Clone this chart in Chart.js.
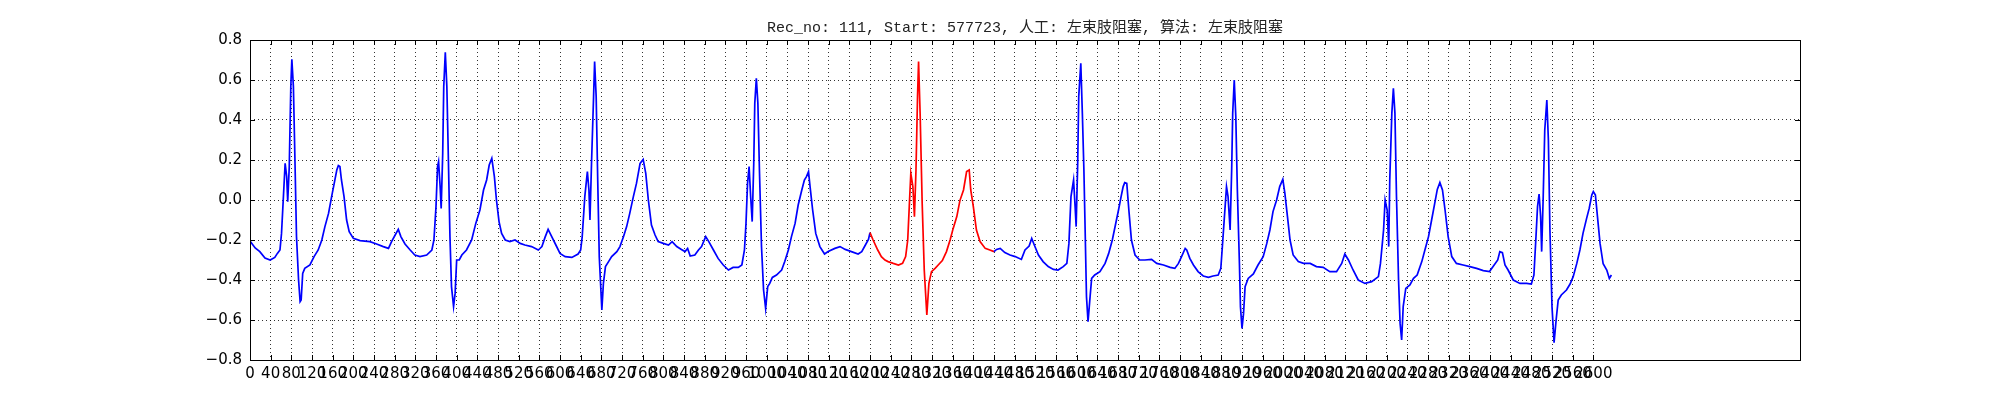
<!DOCTYPE html>
<html>
<head>
<meta charset="utf-8">
<script src="https://cdn.jsdelivr.net/npm/chart.js@4"></script>
<style>
    body { margin: 0; background: #fff; }
</style>
</head>
<body>
<canvas id="ecgChart" width="2000" height="400"></canvas>
<script>
// sample index / amplitude
const sampleIdx = [
    0, 10, 19, 29, 39, 48, 53, 58, 61, 65, 68, 71, 73, 76, 79, 81, 84, 87, 90, 94, 97, 99,
    102, 106, 116, 124, 132, 139, 145, 152, 158, 163, 168, 171, 174, 177, 182, 187, 192, 200,
    213, 232, 245, 258, 268, 274, 281, 287, 292, 300, 310, 319, 329, 342, 352, 356, 360, 363,
    365, 368, 370, 373, 375, 378, 381, 384, 387, 390, 394, 397, 400, 405, 410, 419, 429, 437,
    445, 452, 458, 463, 468, 473, 477, 482, 487, 494, 503, 513, 523, 532, 545, 558, 565, 571,
    577, 584, 592, 600, 610, 623, 635, 640, 643, 648, 653, 656, 658, 661, 665, 667, 670, 673,
    676, 681, 684, 688, 694, 700, 710, 716, 723, 729, 735, 742, 748, 755, 761, 766, 771, 777,
    784, 790, 800, 810, 817, 826, 835, 842, 847, 852, 861, 868, 874, 882, 888, 897, 906, 916,
    926, 935, 945, 952, 957, 960, 963, 966, 969, 972, 975, 977, 980, 983, 986, 990, 994, 998,
    1002, 1006, 1011, 1019, 1029, 1035, 1042, 1048, 1055, 1061, 1068, 1073, 1077, 1081, 1084,
    1089, 1095, 1103, 1112, 1119, 1132, 1142, 1152, 1164, 1177, 1184, 1190, 1197, 1200, 1206,
    1215, 1222, 1229, 1235, 1245, 1255, 1263, 1269, 1273, 1276, 1279, 1283, 1286, 1289, 1292,
    1294, 1297, 1301, 1305, 1310, 1314, 1319, 1326, 1332, 1340, 1348, 1355, 1361, 1368, 1374,
    1381, 1387, 1392, 1395, 1400, 1406, 1413, 1423, 1432, 1440, 1445, 1452, 1461, 1471, 1481,
    1493, 1500, 1508, 1513, 1518, 1526, 1535, 1545, 1555, 1564, 1574, 1581, 1585, 1589, 1594,
    1597, 1599, 1602, 1604, 1608, 1611, 1614, 1616, 1619, 1622, 1626, 1629, 1635, 1645, 1655,
    1662, 1669, 1675, 1681, 1686, 1690, 1693, 1697, 1701, 1706, 1713, 1722, 1732, 1745, 1755,
    1768, 1781, 1790, 1797, 1803, 1810, 1813, 1819, 1826, 1835, 1845, 1855, 1864, 1874, 1879,
    1882, 1886, 1890, 1893, 1897, 1900, 1902, 1905, 1908, 1911, 1915, 1917, 1920, 1923, 1926,
    1932, 1942, 1951, 1961, 1968, 1974, 1980, 1987, 1993, 1999, 2003, 2008, 2013, 2019, 2029,
    2039, 2052, 2064, 2077, 2090, 2103, 2113, 2119, 2126, 2135, 2145, 2158, 2171, 2184, 2188,
    2194, 2197, 2201, 2204, 2206, 2210, 2213, 2216, 2219, 2223, 2226, 2229, 2232, 2237, 2245,
    2252, 2259, 2268, 2274, 2281, 2287, 2293, 2298, 2303, 2308, 2313, 2319, 2326, 2335, 2348,
    2361, 2374, 2387, 2399, 2406, 2415, 2419, 2424, 2429, 2435, 2445, 2458, 2471, 2480, 2485,
    2489, 2492, 2495, 2498, 2500, 2503, 2506, 2510, 2513, 2516, 2520, 2524, 2528, 2532, 2538,
    2548, 2555, 2561, 2568, 2574, 2580, 2587, 2592, 2597, 2600, 2604, 2608, 2613, 2619, 2626,
    2631, 2635
];
const ecgValues = [
    -0.205, -0.24, -0.258, -0.29, -0.30, -0.287, -0.267, -0.25, -0.167, 0.033, 0.183, 0.117, -0.008, 0.167, 0.567, 0.703, 0.567, 0.2, -0.183, -0.4, -0.508, -0.5,
    -0.367, -0.342, -0.325, -0.283, -0.25, -0.2, -0.133, -0.067, 0.017, 0.083, 0.15, 0.172, 0.167, 0.1, 0.017, -0.1, -0.158, -0.192,
    -0.203, -0.208, -0.22, -0.233, -0.242, -0.208, -0.175, -0.147, -0.183, -0.22, -0.25, -0.275, -0.283, -0.275, -0.25, -0.2, -0.033, 0.167,
    0.192, 0.067, -0.042, 0.233, 0.567, 0.738, 0.567, 0.2, -0.183, -0.433, -0.533, -0.467, -0.3, -0.3, -0.275, -0.25, -0.2, -0.117,
    -0.05, 0.05, 0.1, 0.175, 0.208, 0.117, 0.0, -0.108, -0.167, -0.2, -0.208, -0.2, -0.217, -0.225, -0.233, -0.25, -0.233, -0.187,
    -0.147, -0.183, -0.225, -0.267, -0.283, -0.287, -0.27, -0.25, -0.183, 0.017, 0.142, 0.05, -0.1, 0.183, 0.517, 0.692, 0.517, 0.1,
    -0.283, -0.55, -0.417, -0.333, -0.308, -0.283, -0.258, -0.233, -0.183, -0.133, -0.067, 0.017, 0.083, 0.183, 0.203, 0.133, 0.0, -0.125,
    -0.175, -0.208, -0.217, -0.225, -0.208, -0.233, -0.247, -0.258, -0.242, -0.28, -0.275, -0.25, -0.233, -0.183, -0.208, -0.25, -0.292, -0.325,
    -0.35, -0.337, -0.337, -0.325, -0.25, -0.117, 0.083, 0.167, 0.017, -0.108, 0.183, 0.483, 0.608, 0.483, 0.15, -0.233, -0.45, -0.542,
    -0.433, -0.417, -0.387, -0.375, -0.35, -0.308, -0.25, -0.183, -0.117, -0.025, 0.05, 0.1, 0.117, 0.142, 0.067,
    -0.05, -0.167, -0.233, -0.27, -0.258, -0.242, -0.233, -0.247, -0.258, -0.27, -0.258, -0.23, -0.197, -0.163, -0.2,
    -0.25, -0.283, -0.3, -0.308, -0.317, -0.325, -0.317, -0.283, -0.2, -0.033, 0.133, 0.067, -0.083, 0.15, 0.517,
    0.692, 0.433, -0.017, -0.35, -0.575, -0.417, -0.358, -0.342, -0.325, -0.303, -0.258, -0.2, -0.142, -0.083, -0.003,
    0.05, 0.142, 0.15, 0.05, -0.033, -0.15, -0.208, -0.242, -0.25, -0.258, -0.247, -0.242, -0.263, -0.275, -0.283,
    -0.297, -0.25, -0.23, -0.192, -0.225, -0.275, -0.308, -0.333, -0.347, -0.35, -0.333, -0.317, -0.217, 0.017, 0.1,
    -0.033, -0.133, 0.183, 0.517, 0.683, 0.433, 0.15, -0.1, -0.483, -0.608, -0.483, -0.392, -0.375, -0.358, -0.317,
    -0.267, -0.2, -0.125, -0.05, 0.017, 0.067, 0.087, 0.083, -0.05, -0.2, -0.275, -0.3, -0.3, -0.297, -0.317,
    -0.325, -0.337, -0.342, -0.317, -0.283, -0.242, -0.25, -0.292, -0.325, -0.358, -0.38, -0.387, -0.38, -0.375, -0.342,
    -0.233, -0.083, 0.067, 0.017, -0.15, 0.15, 0.433, 0.6, 0.417, 0.05, -0.317, -0.533, -0.642, -0.567, -0.433,
    -0.392, -0.37, -0.325, -0.283, -0.217, -0.15, -0.058, 0.0, 0.067, 0.103, 0.033, -0.083, -0.2, -0.275, -0.308,
    -0.317, -0.317, -0.333, -0.337, -0.358, -0.358, -0.317, -0.27, -0.3, -0.35, -0.4, -0.417, -0.408, -0.383, -0.317,
    -0.15, 0.0, -0.05, -0.233, 0.1, 0.433, 0.558, 0.433, 0.017, -0.4, -0.617, -0.7, -0.533, -0.442, -0.425,
    -0.392, -0.375, -0.308, -0.25, -0.183, -0.1, -0.017, 0.053, 0.087, 0.05, -0.05, -0.183, -0.283, -0.317, -0.325,
    -0.333, -0.342, -0.353, -0.358, -0.333, -0.3, -0.258, -0.263, -0.325, -0.35, -0.4, -0.417, -0.417, -0.42, -0.375,
    -0.183, -0.033, 0.03, -0.083, -0.258, 0.017, 0.35, 0.5, 0.3, -0.15, -0.533, -0.713, -0.6, -0.5, -0.475,
    -0.45, -0.42, -0.383, -0.317, -0.25, -0.167, -0.092, -0.042, 0.025, 0.042, 0.025, -0.083, -0.217, -0.319, -0.35,
    -0.392, -0.375
];
// highlighted beat (drawn red)
const redStart = 1200;
const redEnd = 1440;

const titleText = 'Rec_no: 111, Start: 577723, 人工: 左束肢阻塞, 算法: 左束肢阻塞';
const xTickStep = 40;
const xTickLast = 2600;
const yTicks = [-0.8, -0.6, -0.4, -0.2, 0.0, 0.2, 0.4, 0.6, 0.8];

const xTicks = [];
for (let v = 0; v <= xTickLast; v += xTickStep) xTicks.push(v);

const points = sampleIdx.map((x, i) => ({ x: x, y: ecgValues[i] }));

// frame, inward tick marks, title
const framePlugin = {
    id: 'frame',
    afterDraw(chart) {
        const ctx = chart.ctx;
        const a = chart.chartArea;
        const xs = chart.scales.x, ys = chart.scales.y;
        ctx.save();
        ctx.setLineDash([]);
        ctx.strokeStyle = '#000';
        ctx.lineWidth = 1;
        ctx.beginPath();
        xTicks.forEach(v => {
            const px = Math.round(xs.getPixelForValue(v)) + 0.5;
            ctx.moveTo(px, a.bottom); ctx.lineTo(px, a.bottom - 5);
            ctx.moveTo(px, a.top); ctx.lineTo(px, a.top + 5);
        });
        yTicks.forEach(v => {
            const py = Math.round(ys.getPixelForValue(v)) + 0.5;
            ctx.moveTo(a.left, py); ctx.lineTo(a.left + 5, py);
            ctx.moveTo(a.right, py); ctx.lineTo(a.right - 5, py);
        });
        ctx.stroke();
        ctx.strokeRect(Math.round(a.left) + 0.5, Math.round(a.top) + 0.5,
            Math.round(a.right - a.left), Math.round(a.bottom - a.top));
        ctx.fillStyle = '#222';
        ctx.font = "15px 'Liberation Mono', 'Noto Sans CJK SC'";
        ctx.textAlign = 'center';
        ctx.textBaseline = 'alphabetic';
        ctx.fillText(titleText, (a.left + a.right) / 2, a.top - 8);
        ctx.restore();
    }
};

const ctx = document.getElementById('ecgChart');
new Chart(ctx, {
    type: 'line',
    data: {
        datasets: [{
            data: points,
            borderColor: '#0000ff',
            borderWidth: 1.7,
            pointRadius: 0,
            tension: 0,
            fill: false,
            segment: {
                borderColor: c => (c.p0.parsed.x >= redStart && c.p1.parsed.x <= redEnd) ? '#ff0000' : '#0000ff'
            }
        }]
    },
    options: {
        responsive: false,
        animation: false,
        devicePixelRatio: 1,
        layout: { padding: { left: 0, right: 200, top: 40, bottom: 0 } },
        plugins: {
            legend: { display: false },
            tooltip: { enabled: false },
            title: { display: false }
        },
        scales: {
            x: {
                type: 'linear',
                min: 0,
                max: 3000,
                afterBuildTicks: scale => { scale.ticks = xTicks.map(v => ({ value: v })); },
                afterFit: scale => { scale.height = 40; },
                ticks: {
                    autoSkip: false,
                    maxRotation: 0,
                    minRotation: 0,
                    padding: 5,
                    color: '#000',
                    font: { family: 'DejaVu Sans', size: 15 },
                    callback: v => String(v)
                },
                grid: { color: 'rgba(0,0,0,0.8)', lineWidth: 1, drawTicks: false },
                border: { display: false, dash: [1, 3] }
            },
            y: {
                min: -0.8,
                max: 0.8,
                afterBuildTicks: scale => { scale.ticks = yTicks.map(v => ({ value: v })); },
                afterFit: scale => { scale.width = 250; },
                ticks: {
                    padding: 8,
                    color: '#000',
                    font: { family: 'DejaVu Sans', size: 15 },
                    callback: v => Math.abs(v) < 1e-9 ? '0.0' : v.toFixed(1).replace('-', '\u2212')
                },
                grid: { color: 'rgba(0,0,0,0.8)', lineWidth: 1, drawTicks: false },
                border: { display: false, dash: [1, 3] }
            }
        }
    },
    plugins: [framePlugin]
});
</script>
</body>
</html>
